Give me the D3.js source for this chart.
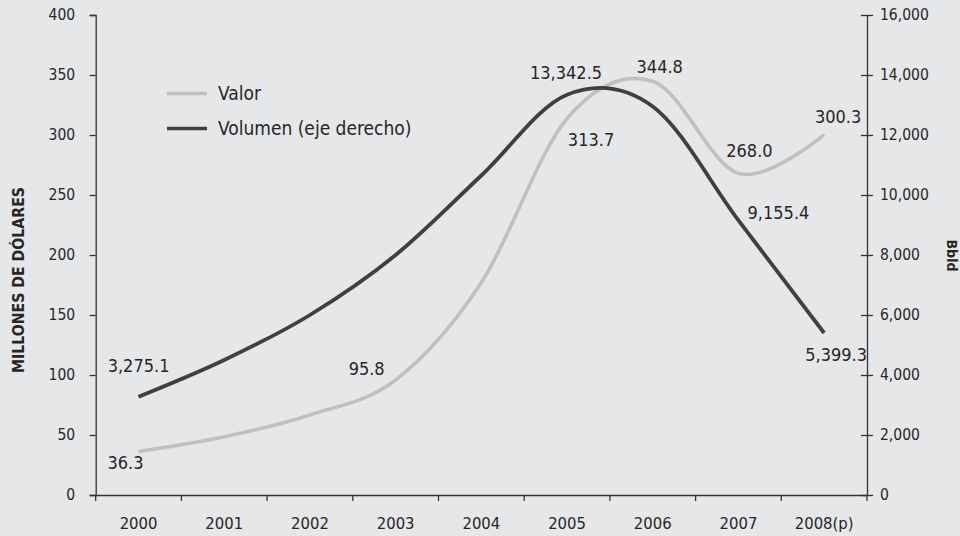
<!DOCTYPE html>
<html>
<head>
<meta charset="utf-8">
<script src="https://cdn.jsdelivr.net/npm/d3@7"></script>
<style>
  html, body { margin: 0; padding: 0; background: #e6e7e9; }
  svg { display: block; font-family: "DejaVu Sans Condensed", "DejaVu Sans", Verdana, sans-serif; }
</style>
</head>
<body>
<svg id="chart" width="960" height="536"></svg>
<script>
// ---- Data ----
const categories = ["2000", "2001", "2002", "2003", "2004", "2005", "2006", "2007", "2008(p)"];
const valor = [36.3, 48.6, 66.7, 95.8, 177, 313.7, 344.8, 268.0, 300.3];          // millones de dólares (left axis)
const volumen = [3275.1, 4500, 6000, 8000, 10650, 13342.5, 12950, 9155.4, 5399.3]; // Bbld (right axis)
const valorLabelIdx = [0, 3, 5, 6, 7, 8];
const volumenLabelIdx = [0, 5, 7, 8];
const leftTicks = [0, 50, 100, 150, 200, 250, 300, 350, 400];
const rightTicks = [0, 2000, 4000, 6000, 8000, 10000, 12000, 14000, 16000];
const seriesNames = ["Valor", "Volumen (eje derecho)"];
const leftTitle = "MILLONES DE DÓLARES";
const rightTitle = "Bbld";

// ---- Layout (not data) ----
const valorLabelOffsets = { 0: [-13, 18], 3: [-29, -5], 5: [24, 27], 6: [7, -8], 7: [11, -16], 8: [14, -12] };
const volumenLabelOffsets = { 0: [0, -25], 5: [-1, -16], 7: [40, -1], 8: [12, 28] };

const FONT = "'DejaVu Sans Condensed', 'DejaVu Sans', sans-serif";
const svg = d3.select("#chart");
const L = 95.7, R = 867, T = 15, B = 495;
const textColor = "#262626";
const axisColor = "#333333";
const grayColor = "#c0c0c0";
const darkColor = "#404040";

svg.append("rect").attr("width", 960).attr("height", 536).attr("fill", "#e6e7e9");

const x = d3.scaleBand().domain(categories).range([L, R]).padding(0);
const xc = d => x(d) + x.bandwidth() / 2;
const yL = d3.scaleLinear().domain([0, 400]).range([B, T]);
const yR = d3.scaleLinear().domain([0, 16000]).range([B, T]);

const fmtR = d3.format(",");

// Left axis
const gL = svg.append("g").attr("transform", `translate(${L},0)`)
  .call(d3.axisLeft(yL).tickValues(leftTicks).tickSize(6).tickPadding(14.5).tickFormat(d3.format("d")));
gL.attr("font-family", FONT);
gL.select(".domain").attr("stroke", axisColor).attr("stroke-width", 1.3);
gL.selectAll(".tick line").attr("stroke", axisColor).attr("stroke-width", 1.3);
gL.selectAll(".tick text").attr("font-size", 15.5).attr("fill", textColor);

// Right axis (ticks crossing)
const gR = svg.append("g").attr("transform", `translate(${R},0)`)
  .call(d3.axisRight(yR).tickValues(rightTicks).tickSizeInner(6).tickSizeOuter(0).tickPadding(7).tickFormat(fmtR));
gR.attr("font-family", FONT);
gR.select(".domain").attr("stroke", axisColor).attr("stroke-width", 1.3);
gR.selectAll(".tick line").attr("stroke", axisColor).attr("stroke-width", 1.3).attr("x1", -6);
gR.selectAll(".tick text").attr("font-size", 15.5).attr("fill", textColor);

// Bottom axis
const gB = svg.append("g").attr("transform", `translate(0,${B})`)
  .call(d3.axisBottom(x).tickSize(0).tickPadding(22));
gB.attr("font-family", FONT);
gB.select(".domain").attr("stroke", axisColor).attr("stroke-width", 1.3);
gB.selectAll(".tick text").attr("font-size", 16.5).attr("fill", textColor);
const boundaries = categories.map(c => x(c)).concat([x.range()[1]]);
gB.selectAll("line.bt").data(boundaries).enter().append("line")
  .attr("class", "bt")
  .attr("x1", d => d).attr("x2", d => d).attr("y1", 0).attr("y2", 6)
  .attr("stroke", axisColor).attr("stroke-width", 1.3);

// Axis titles
svg.append("text")
  .attr("transform", `translate(24,280) rotate(-90)`)
  .attr("text-anchor", "middle").attr("font-size", 15).attr("font-weight", "bold")
  .attr("textLength", 186).attr("lengthAdjust", "spacingAndGlyphs")
  .attr("fill", textColor).text(leftTitle);
svg.append("text")
  .attr("transform", `translate(947,255.5) rotate(90)`)
  .attr("text-anchor", "middle").attr("font-size", 14.5).attr("font-weight", "bold")
  .attr("textLength", 32).attr("lengthAdjust", "spacingAndGlyphs")
  .attr("fill", textColor).text(rightTitle);

// Lines
const curve = d3.curveCardinal.tension(0);
const lineL = d3.line().x((d, i) => xc(categories[i])).y(d => yL(d)).curve(curve);
const lineR = d3.line().x((d, i) => xc(categories[i])).y(d => yR(d)).curve(curve);

svg.append("path").datum(valor).attr("d", lineL)
  .attr("fill", "none").attr("stroke", grayColor).attr("stroke-width", 3.6);
svg.append("path").datum(volumen).attr("d", lineR)
  .attr("fill", "none").attr("stroke", darkColor).attr("stroke-width", 3.8);

// Data labels
const lblSize = 18;
svg.selectAll("text.vl").data(valorLabelIdx).enter().append("text")
  .attr("class", "vl")
  .attr("x", i => xc(categories[i]) + valorLabelOffsets[i][0])
  .attr("y", i => yL(valor[i]) + valorLabelOffsets[i][1])
  .attr("text-anchor", "middle").attr("font-size", lblSize).attr("fill", textColor)
  .text(i => d3.format(".1f")(valor[i]));
svg.selectAll("text.vr").data(volumenLabelIdx).enter().append("text")
  .attr("class", "vr")
  .attr("x", i => xc(categories[i]) + volumenLabelOffsets[i][0])
  .attr("y", i => yR(volumen[i]) + volumenLabelOffsets[i][1])
  .attr("text-anchor", "middle").attr("font-size", lblSize).attr("fill", textColor)
  .text(i => d3.format(",.1f")(volumen[i]));

// Legend
const legend = svg.append("g");
const legendColors = [grayColor, darkColor];
const legendY = [93.5, 128.5];
seriesNames.forEach((name, i) => {
  legend.append("line").attr("x1", 167).attr("x2", 207).attr("y1", legendY[i]).attr("y2", legendY[i])
    .attr("stroke", legendColors[i]).attr("stroke-width", 3.6);
  legend.append("text").attr("x", 218).attr("y", legendY[i] + 6.3)
    .attr("font-size", 19).attr("fill", textColor).text(name);
});
</script>
</body>
</html>
